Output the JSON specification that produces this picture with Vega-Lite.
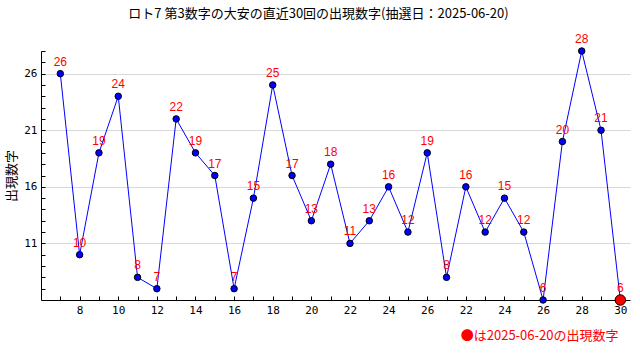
{
  "$schema": "https://vega.github.io/schema/vega-lite/v6.json",
  "width": 589,
  "height": 249,
  "autosize": {"type": "none"},
  "padding": {"left": 41, "top": 51, "right": 10, "bottom": 60},
  "background": "white",
  "config": {"view": {"stroke": null}},
  "title": {
    "text": "ロト7 第3数字の大安の直近30回の出現数字(抽選日：2025-06-20)",
    "font": "Noto Sans CJK JP",
    "fontSize": 13,
    "fontWeight": "normal",
    "color": "#000000",
    "anchor": "middle",
    "frame": "group",
    "dx": -17,
    "offset": 12
  },
  "data": {
    "values": [
      {"i": 1, "v": 26}, {"i": 2, "v": 10}, {"i": 3, "v": 19}, {"i": 4, "v": 24},
      {"i": 5, "v": 8}, {"i": 6, "v": 7}, {"i": 7, "v": 22}, {"i": 8, "v": 19},
      {"i": 9, "v": 17}, {"i": 10, "v": 7}, {"i": 11, "v": 15}, {"i": 12, "v": 25},
      {"i": 13, "v": 17}, {"i": 14, "v": 13}, {"i": 15, "v": 18}, {"i": 16, "v": 11},
      {"i": 17, "v": 13}, {"i": 18, "v": 16}, {"i": 19, "v": 12}, {"i": 20, "v": 19},
      {"i": 21, "v": 8}, {"i": 22, "v": 16}, {"i": 23, "v": 12}, {"i": 24, "v": 15},
      {"i": 25, "v": 12}, {"i": 26, "v": 6}, {"i": 27, "v": 20}, {"i": 28, "v": 28},
      {"i": 29, "v": 21}, {"i": 30, "v": 6}
    ]
  },
  "encoding": {
    "x": {
      "field": "i",
      "type": "quantitative",
      "scale": {"domain": [0, 30.5], "nice": false, "zero": false},
      "axis": {
        "values": [1,2,3,4,5,6,7,8,9,10,11,12,13,14,15,16,17,18,19,20,21,22,23,24,25,26,27,28,29,30],
        "labelExpr": "['','','8','','10','','12','','14','','16','','18','','20','','22','','24','','26','','22','','24','','26','','28','','30'][datum.value]",
        "grid": false,
        "domainColor": "#000000",
        "tickColor": "#000000",
        "tickSize": -4,
        "labelColor": "#000000",
        "labelFont": "DejaVu Sans Mono",
        "labelFontSize": 11,
        "labelPadding": 8,
        "labelFlush": false,
        "labelOverlap": false,
        "title": "●は2025-06-20の出現数字",
        "titleColor": "#ff0000",
        "titleFont": "Noto Sans CJK JP",
        "titleFontSize": 13,
        "titleFontWeight": "normal",
        "titleX": 577,
        "titleY": 35,
        "titleAlign": "right",
        "titleBaseline": "middle"
      }
    },
    "y": {
      "field": "v",
      "type": "quantitative",
      "scale": {"domain": [6, 28], "nice": false, "zero": false},
      "axis": {
        "values": [7,8,9,10,11,12,13,14,15,16,17,18,19,20,21,22,23,24,25,26,27,28],
        "labelExpr": "(datum.value - 11) % 5 === 0 ? datum.label : ''",
        "grid": true,
        "gridColor": {"condition": {"test": "(datum.value - 11) % 5 === 0", "value": "#d8d8d8"}, "value": "transparent"},
        "domainColor": "#000000",
        "tickColor": "#000000",
        "tickSize": -4,
        "labelColor": "#000000",
        "labelFont": "DejaVu Sans Mono",
        "labelFontSize": 11,
        "labelPadding": 8,
        "labelOverlap": false,
        "title": "出現数字",
        "titleColor": "#000000",
        "titleFont": "Noto Sans CJK JP",
        "titleFontSize": 13,
        "titleFontWeight": "normal",
        "titleX": -30,
        "titleY": 124.5,
        "titleAngle": -90,
        "titleAlign": "center",
        "titleBaseline": "middle"
      }
    }
  },
  "layer": [
    {"mark": {"type": "line", "color": "#0000ff", "strokeWidth": 1}},
    {
      "mark": {"type": "circle", "stroke": "#000000", "strokeWidth": 1, "opacity": 1},
      "encoding": {
        "fill": {"condition": {"test": "datum.i === 30", "value": "#ff0000"}, "value": "#0000ff"},
        "size": {"condition": {"test": "datum.i === 30", "value": 110}, "value": 42}
      }
    },
    {
      "mark": {"type": "text", "color": "#ff0000", "font": "Liberation Sans", "fontSize": 12, "dy": -12, "baseline": "middle"},
      "encoding": {"text": {"field": "v", "type": "quantitative"}}
    }
  ]
}
